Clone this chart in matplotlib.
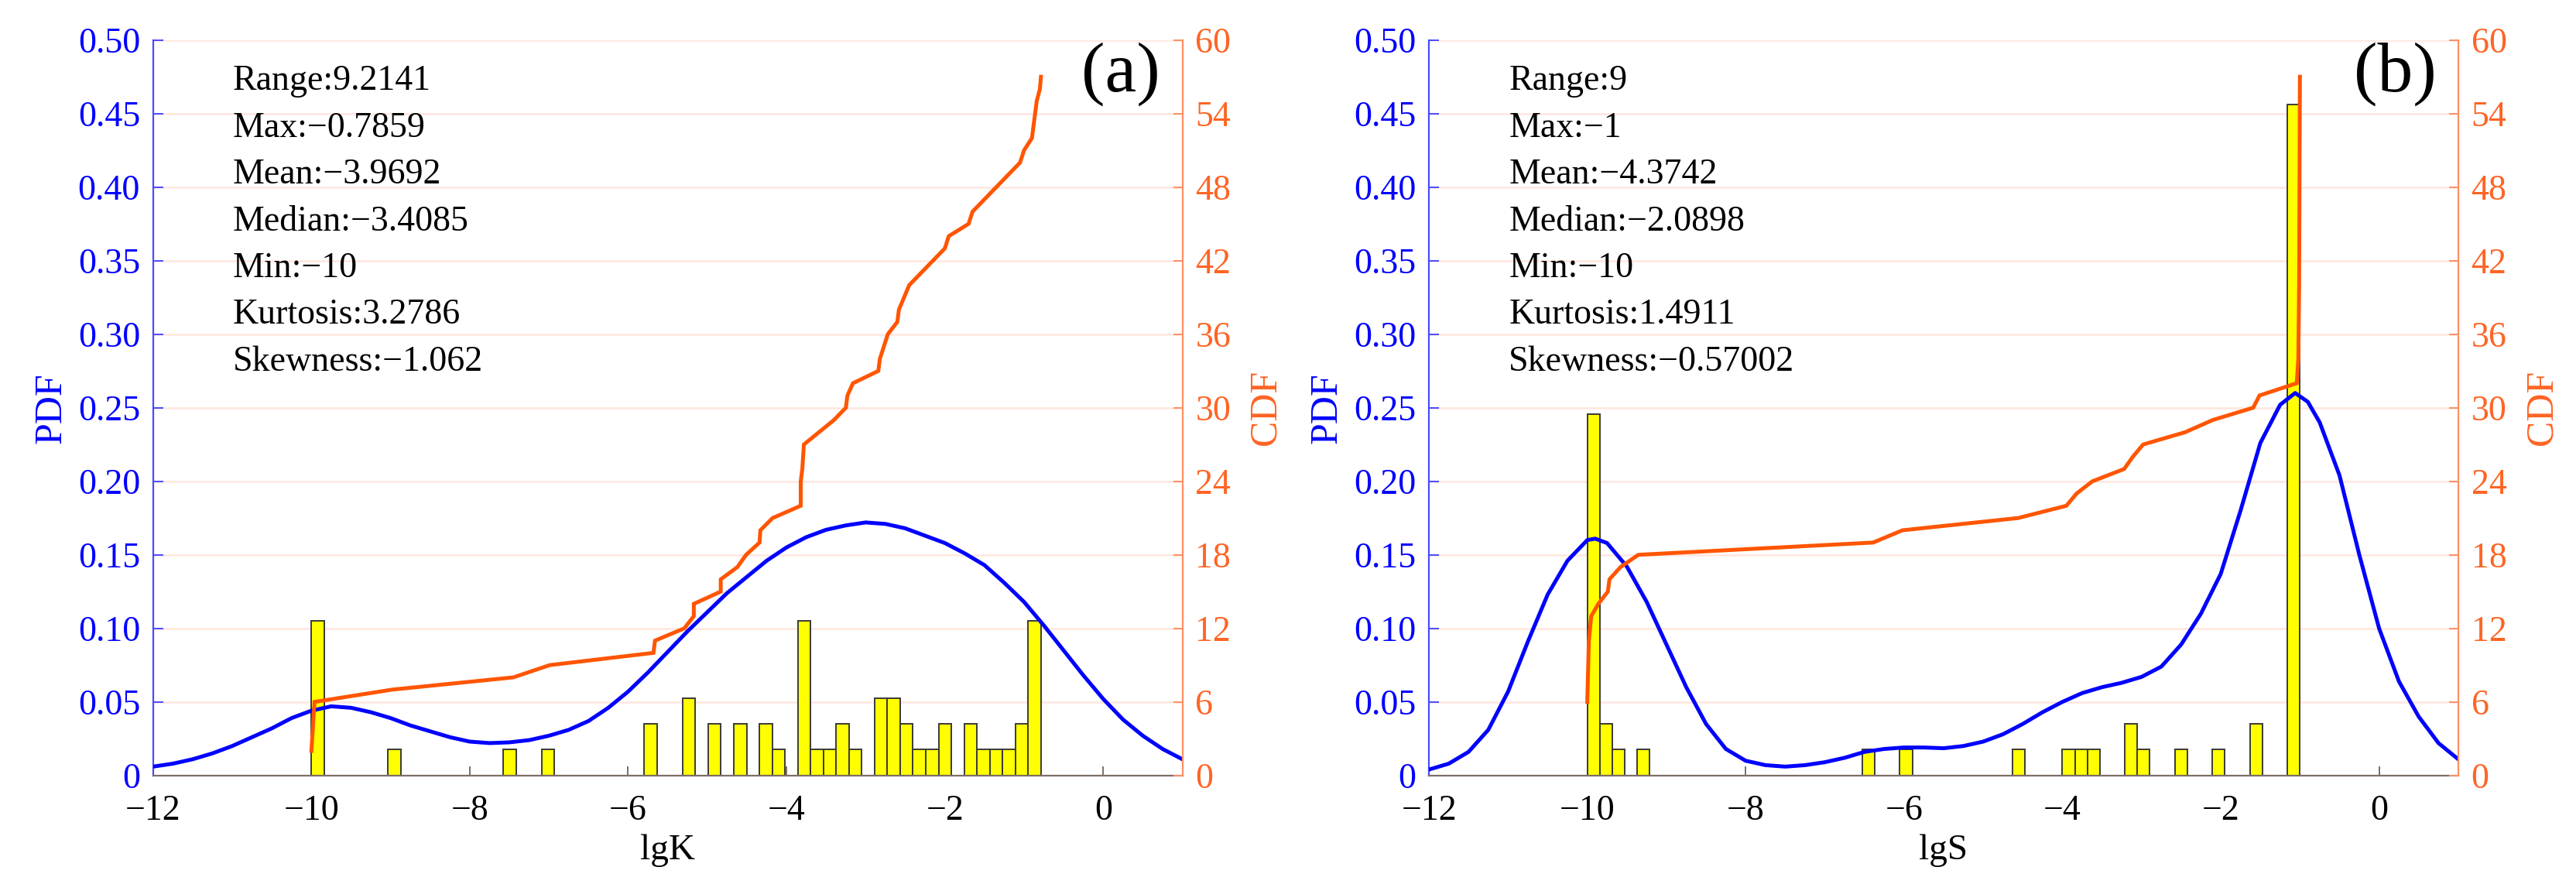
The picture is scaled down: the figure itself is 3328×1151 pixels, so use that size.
import matplotlib
matplotlib.use("Agg")
import matplotlib.pyplot as plt
import numpy as np

plt.rcParams['font.family'] = ['Liberation Serif', 'DejaVu Serif']
plt.rcParams['axes.unicode_minus'] = True

N_SAMPLES = 57

# ---------------- panel (a): lgK ----------------
a_bin_start = -10.0
a_bin_width = 9.2141 / 57
a_counts = [6, 0, 0, 0, 0, 0, 1, 0, 0, 0,
            0, 0, 0, 0, 0, 1, 0, 0, 1, 0,
            0, 0, 0, 0, 0, 0, 2, 0, 0, 3,
            0, 2, 0, 2, 0, 2, 1, 0, 6, 1,
            1, 2, 1, 0, 3, 3, 2, 1, 1, 2,
            0, 2, 1, 1, 1, 2, 6]
a_pdf_x = [-12.0, -11.75, -11.5, -11.25, -11.0, -10.75, -10.5, -10.25, -10.0, -9.75,
           -9.5, -9.25, -9.0, -8.75, -8.5, -8.25, -8.0, -7.75, -7.5, -7.25,
           -7.0, -6.75, -6.5, -6.25, -6.0, -5.75, -5.5, -5.25, -5.0, -4.75,
           -4.5, -4.25, -4.0, -3.75, -3.5, -3.25, -3.0, -2.75, -2.5, -2.25,
           -2.0, -1.75, -1.5, -1.25, -1.0, -0.75, -0.5, -0.25, 0.0, 0.25,
           0.5, 0.75, 1.0]
a_pdf_y = [0.006, 0.008, 0.011, 0.015, 0.020, 0.026, 0.032, 0.039, 0.044, 0.047,
           0.046, 0.043, 0.039, 0.034, 0.030, 0.026, 0.023, 0.022, 0.0225, 0.024,
           0.027, 0.031, 0.037, 0.046, 0.057, 0.070, 0.084, 0.098, 0.111, 0.124,
           0.135, 0.146, 0.155, 0.162, 0.167, 0.170, 0.172, 0.171, 0.168, 0.163,
           0.158, 0.151, 0.143, 0.131, 0.118, 0.102, 0.085, 0.068, 0.052, 0.038,
           0.027, 0.018, 0.011]
a_cdf_x = [-10.0, -9.96, -8.98, -7.45, -6.99, -5.68, -5.66, -5.29, -5.17, -5.17,
           -4.83, -4.83, -4.62, -4.51, -4.34, -4.33, -4.175, -3.82, -3.82, -3.80,
           -3.78, -3.59, -3.40, -3.25, -3.23, -3.16, -2.84, -2.82, -2.72, -2.60,
           -2.58, -2.45, -2.30, -2.15, -2.00, -1.95, -1.70, -1.65, -1.50, -1.35,
           -1.20, -1.05, -1.00, -0.90, -0.88, -0.86, -0.84, -0.80, -0.7859]
a_cdf_y = [2, 6, 7, 8, 9, 10, 11, 12, 13, 14, 15, 16, 17, 18, 19, 20, 21, 22, 24, 25,
           27, 28, 29, 30, 31, 32, 33, 34, 36, 37, 38, 40, 41, 42, 43, 44, 45, 46,
           47, 48, 49, 50, 51, 52, 53, 54, 55, 56, 57]
a_stats = ["Range:9.2141", "Max:\u22120.7859", "Mean:\u22123.9692", "Median:\u22123.4085",
           "Min:\u221210", "Kurtosis:3.2786", "Skewness:\u22121.062"]

# ---------------- panel (b): lgS ----------------
b_bin_start = -10.0
b_bin_width = 9.0 / 57
b_counts = [14, 2, 1, 0, 1, 0, 0, 0, 0, 0,
            0, 0, 0, 0, 0, 0, 0, 0, 0, 0,
            0, 0, 1, 0, 0, 1, 0, 0, 0, 0,
            0, 0, 0, 0, 1, 0, 0, 0, 1, 1,
            1, 0, 0, 2, 1, 0, 0, 1, 0, 0,
            1, 0, 0, 2, 0, 0, 26]
b_pdf_x = [-12.0, -11.75, -11.5, -11.25, -11.0, -10.75, -10.5, -10.25, -10.0, -9.9,
           -9.75, -9.5, -9.25, -9.0, -8.75, -8.5, -8.25, -8.0, -7.75, -7.5,
           -7.25, -7.0, -6.75, -6.5, -6.25, -6.0, -5.75, -5.5, -5.25, -5.0,
           -4.75, -4.5, -4.25, -4.0, -3.75, -3.5, -3.25, -3.0, -2.75, -2.5,
           -2.25, -2.0, -1.75, -1.5, -1.25, -1.06, -0.9, -0.75, -0.5, -0.25,
           0.0, 0.25, 0.5, 0.75, 1.0]
b_pdf_y = [0.004, 0.008, 0.016, 0.031, 0.057, 0.091, 0.123, 0.146, 0.160, 0.161,
           0.158, 0.142, 0.118, 0.089, 0.060, 0.035, 0.018, 0.010, 0.007, 0.006,
           0.007, 0.009, 0.012, 0.016, 0.018, 0.019, 0.019, 0.0185, 0.020, 0.023,
           0.028, 0.035, 0.043, 0.050, 0.056, 0.060, 0.063, 0.067, 0.074, 0.089,
           0.110, 0.137, 0.180, 0.226, 0.252, 0.260, 0.254, 0.240, 0.204, 0.150,
           0.100, 0.064, 0.040, 0.022, 0.011]
b_cdf_x = [-10.0, -9.98, -9.95, -9.86, -9.74, -9.72, -9.58, -9.355, -6.39, -6.02,
           -4.56, -3.95, -3.82, -3.62, -3.22, -3.11, -2.98, -2.45, -2.10, -1.59,
           -1.51, -1.04, -1.02, -1.01, -1.0]
b_cdf_y = [6, 11, 13, 14, 15, 16, 17, 18, 19, 20, 21, 22, 23, 24, 25, 26, 27, 28, 29,
           30, 31, 32, 34, 40, 57]
b_stats = ["Range:9", "Max:\u22121", "Mean:\u22124.3742", "Median:\u22122.0898",
           "Min:\u221210", "Kurtosis:1.4911", "Skewness:\u22120.57002"]

x_ticks = [-12, -10, -8, -6, -4, -2, 0]
pdf_ticks = [0, 0.05, 0.10, 0.15, 0.20, 0.25, 0.30, 0.35, 0.40, 0.45, 0.50]
pdf_labels = ["0", "0.05", "0.10", "0.15", "0.20", "0.25", "0.30", "0.35", "0.40", "0.45", "0.50"]
cdf_ticks = [0, 6, 12, 18, 24, 30, 36, 42, 48, 54, 60]

BLUE = '#0000FF'
BLUE_SPINE = '#4a4aff'
ORANGE = '#FF5500'
ORANGE_TXT = '#FF6424'
ORANGE_SPINE = '#FF8F63'
GRID = '#FFE6DE'
BOTTOM = '#7d6e66'

fig = plt.figure(figsize=(16.64, 5.755), dpi=200)


def draw(rect, start, width, counts, pdf_x, pdf_y, cdf_x, cdf_y, stats, xlabel, tag):
    ax = fig.add_axes(rect)
    counts = np.asarray(counts, dtype=float)
    edges = start + width * np.arange(len(counts))
    keep = counts > 0
    for v in pdf_ticks[1:]:
        ax.axhline(v, color=GRID, lw=0.9, zorder=0)
    ax.bar(edges[keep], counts[keep] / N_SAMPLES, width=width, align='edge',
           color='#FFFF00', edgecolor='#3a3a3a', linewidth=0.7, zorder=2)
    ax.plot(pdf_x, pdf_y, color=BLUE, lw=1.8, zorder=3, solid_joinstyle='round')
    ax.set_xlim(-12, 1)
    ax.set_ylim(0, 0.5)
    ax.set_xticks(x_ticks)
    ax.set_yticks(pdf_ticks)
    ax.set_yticklabels(pdf_labels)
    ax.tick_params(axis='x', direction='in', length=4.5, width=0.7, colors=BOTTOM,
                   labelcolor='black', labelsize=16.5, pad=9)
    ax.tick_params(axis='y', direction='in', length=4.5, width=0.7, colors=BLUE_SPINE,
                   labelcolor=BLUE, labelsize=16.5, pad=6)
    ax.spines['top'].set_visible(False)
    ax.spines['right'].set_visible(False)
    ax.spines['left'].set_color(BLUE_SPINE)
    ax.spines['bottom'].set_color(BOTTOM)
    ax.spines['left'].set_linewidth(0.8)
    ax.spines['bottom'].set_linewidth(0.8)
    ax.set_xlabel(xlabel, fontsize=17, color='black', labelpad=3)
    ax.set_ylabel('PDF', fontsize=18, color=BLUE, labelpad=4)

    ax2 = ax.twinx()
    ax2.plot(cdf_x, cdf_y, color=ORANGE, lw=1.8, zorder=4, solid_joinstyle='miter')
    ax2.set_ylim(0, 60)
    ax2.set_yticks(cdf_ticks)
    ax2.tick_params(axis='y', direction='in', length=4.5, width=0.7, colors=ORANGE_SPINE,
                    labelcolor=ORANGE_TXT, labelsize=16.5, pad=6)
    for s in ['top', 'left', 'bottom']:
        ax2.spines[s].set_visible(False)
    ax2.spines['right'].set_color(ORANGE_SPINE)
    ax2.spines['right'].set_linewidth(0.8)
    ax2.set_ylabel('CDF', fontsize=18, color=ORANGE_TXT, labelpad=8)

    for i, s in enumerate(stats):
        ax2.text(-10.99, 0.466 - i * 0.0318, s, transform=ax.transData,
                 fontsize=16.5, color='black', ha='left', va='baseline')
    ax2.text(0.72, 0.477, tag, transform=ax.transData, fontsize=33,
             color='black', ha='right', va='center')
    return ax, ax2


draw([0.0594, 0.1297, 0.3996, 0.8254], a_bin_start, a_bin_width, a_counts,
     a_pdf_x, a_pdf_y, a_cdf_x, a_cdf_y, a_stats, 'lgK', '(a)')
draw([0.5547, 0.1297, 0.3996, 0.8254], b_bin_start, b_bin_width, b_counts,
     b_pdf_x, b_pdf_y, b_cdf_x, b_cdf_y, b_stats, 'lgS', '(b)')

fig.savefig('out.png', dpi=200)
